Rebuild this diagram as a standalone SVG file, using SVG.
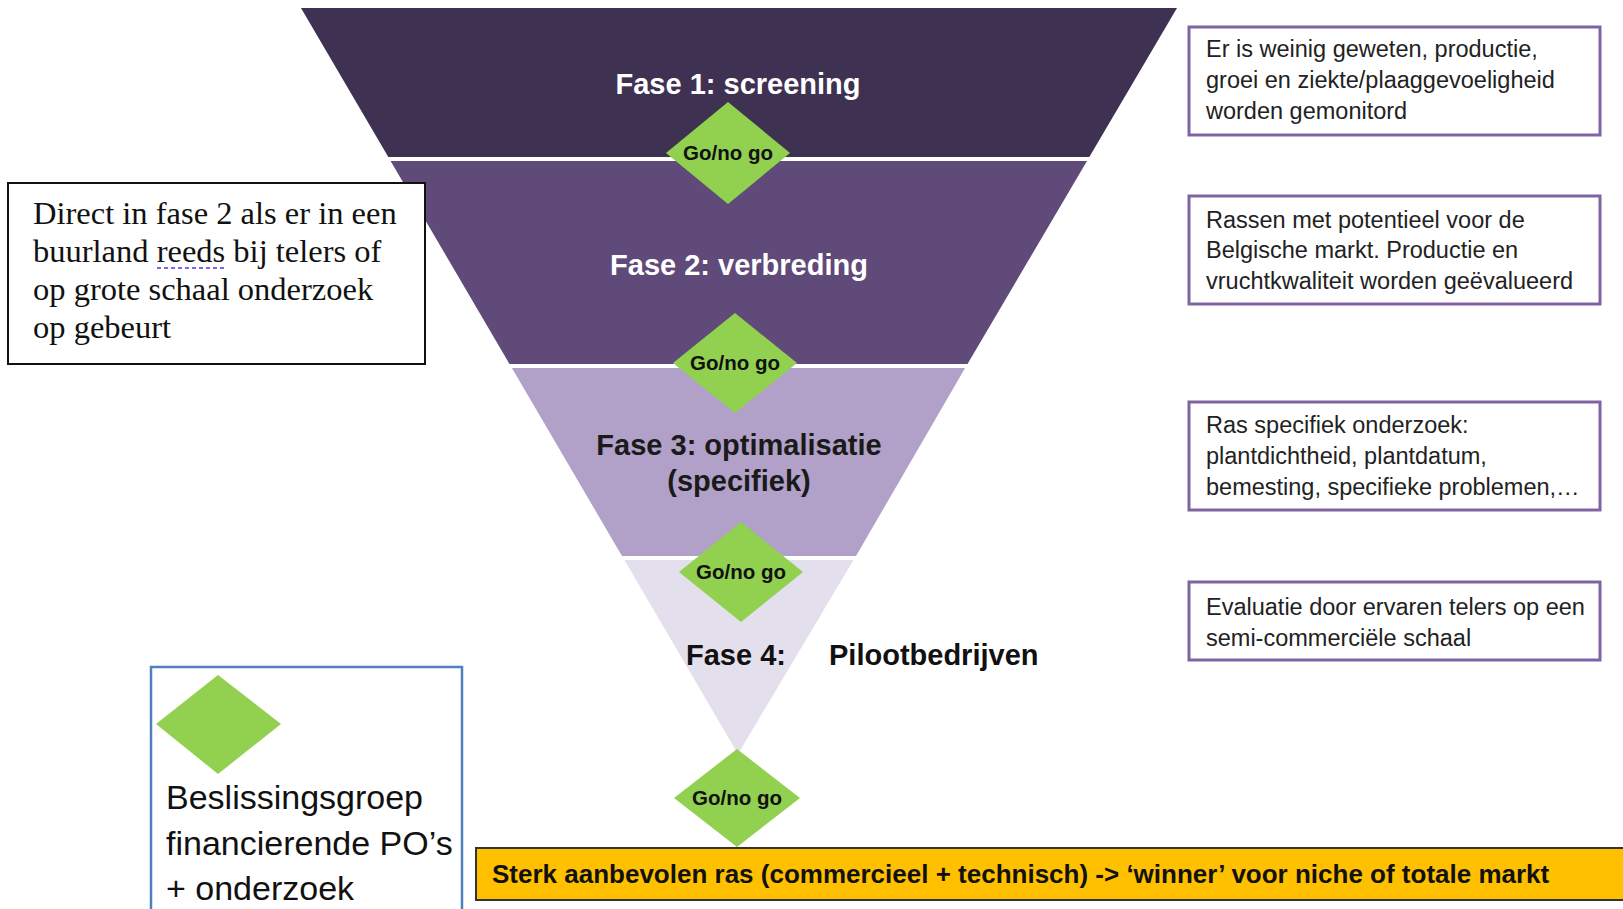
<svg xmlns="http://www.w3.org/2000/svg" width="1623" height="909" viewBox="0 0 1623 909">
<style>
.sans{font-family:"Liberation Sans",Arial,sans-serif}
.serif{font-family:"Liberation Serif","Times New Roman",serif}
.phase{font-family:"Liberation Sans",Arial,sans-serif;font-weight:bold;font-size:29px;text-anchor:middle}
.gate{fill:#92D050}
.gatetxt{font-family:"Liberation Sans",Arial,sans-serif;font-weight:bold;font-size:20.5px;text-anchor:middle;fill:#111}
.note{fill:#fff;stroke:#8064A2;stroke-width:3}
.notetxt{font-family:"Liberation Sans",Arial,sans-serif;font-size:23.5px;fill:#222}
</style>
<rect x="0" y="0" width="1623" height="909" fill="#fff"/>

<g id="phase1">
<polygon points="301,8 1177,8 1089.3,157 388.3,157" fill="#3F3152"/>
<text class="phase" x="738" y="94" fill="#fff">Fase 1: screening</text>
</g>
<g id="phase2">
<polygon points="390.6,161 1087,161 967.5,364 509.5,364" fill="#5F4A7A"/>
<text class="phase" x="739" y="275" fill="#fff">Fase 2: verbreding</text>
</g>
<g id="phase3">
<polygon points="511.9,368 965.1,368 856,556 622,556" fill="#B1A0C7"/>
<text class="phase" x="739" y="455" fill="#1a1a1a">Fase 3: optimalisatie</text>
<text class="phase" x="739" y="491" fill="#1a1a1a">(specifiek)</text>
</g>
<g id="phase4">
<polygon points="624.4,560 853.5,560 738,754" fill="#E4DFEC"/>
<text class="phase" x="686" y="665" fill="#111" style="text-anchor:start">Fase  4:</text>
<text class="phase" x="829" y="665" fill="#111" style="text-anchor:start" font-size="30">Pilootbedrijven</text>
</g>

<g id="gate1">
<polygon class="gate" points="728,102 790,153 728,204 666,153"/>
<text class="gatetxt" x="728" y="160">Go/no go</text>
</g>
<g id="gate2">
<polygon class="gate" points="735,313 797,363 735,413 673,363"/>
<text class="gatetxt" x="735" y="370">Go/no go</text>
</g>
<g id="gate3">
<polygon class="gate" points="741,522 803,572 741,622 679,572"/>
<text class="gatetxt" x="741" y="579">Go/no go</text>
</g>
<g id="gate4">
<polygon class="gate" points="737,749 800,798 737,847 674,798"/>
<text class="gatetxt" x="737" y="805">Go/no go</text>
</g>

<g id="note-direct">
<rect x="8" y="183" width="417" height="181" fill="#fff" stroke="#111" stroke-width="2"/>
<text class="serif" font-size="32.5" fill="#111">
<tspan x="33" y="224">Direct in fase 2 als er in een</tspan>
<tspan x="33" y="262">buurland reeds bij telers of</tspan>
<tspan x="33" y="300">op grote schaal onderzoek</tspan>
<tspan x="33" y="338">op gebeurt</tspan>
</text>
<line x1="157" y1="268" x2="226" y2="268" stroke="#7B68EE" stroke-width="2" stroke-dasharray="4,3"/>
</g>

<g id="note1">
<rect class="note" x="1189" y="27" width="411" height="108"/>
<text class="notetxt">
<tspan x="1206" y="57">Er is weinig geweten, productie,</tspan>
<tspan x="1206" y="88">groei en ziekte/plaaggevoeligheid</tspan>
<tspan x="1206" y="119">worden gemonitord</tspan>
</text>
</g>
<g id="note2">
<rect class="note" x="1189" y="196" width="411" height="108"/>
<text class="notetxt">
<tspan x="1206" y="228">Rassen met potentieel voor de</tspan>
<tspan x="1206" y="258">Belgische markt. Productie en</tspan>
<tspan x="1206" y="289">vruchtkwaliteit worden geëvalueerd</tspan>
</text>
</g>
<g id="note3">
<rect class="note" x="1189" y="402" width="411" height="108"/>
<text class="notetxt">
<tspan x="1206" y="433">Ras specifiek onderzoek:</tspan>
<tspan x="1206" y="464">plantdichtheid, plantdatum,</tspan>
<tspan x="1206" y="495">bemesting, specifieke problemen,…</tspan>
</text>
</g>
<g id="note4">
<rect class="note" x="1189" y="582" width="411" height="78"/>
<text class="notetxt">
<tspan x="1206" y="615">Evaluatie door ervaren telers op een</tspan>
<tspan x="1206" y="646">semi-commerciële schaal</tspan>
</text>
</g>

<g id="legend">
<rect x="151" y="667" width="311" height="260" fill="#fff" stroke="#4F81BD" stroke-width="2.5"/>
<polygon class="gate" points="218,675 281,724 218,774 156,724"/>
<text class="sans" font-size="34" fill="#111">
<tspan x="166" y="809">Beslissingsgroep</tspan>
<tspan x="166" y="855">financierende PO’s</tspan>
<tspan x="166" y="900">+ onderzoek</tspan>
</text>
</g>

<g id="result">
<rect x="476" y="848" width="1160" height="52" fill="#FFC000" stroke="#333" stroke-width="2"/>
<text class="sans" x="492" y="883" font-size="26" font-weight="bold" fill="#111">Sterk aanbevolen ras (commercieel + technisch) -&gt; ‘winner’ voor niche of totale markt</text>
</g>

<g id="connectors"></g>
</svg>
